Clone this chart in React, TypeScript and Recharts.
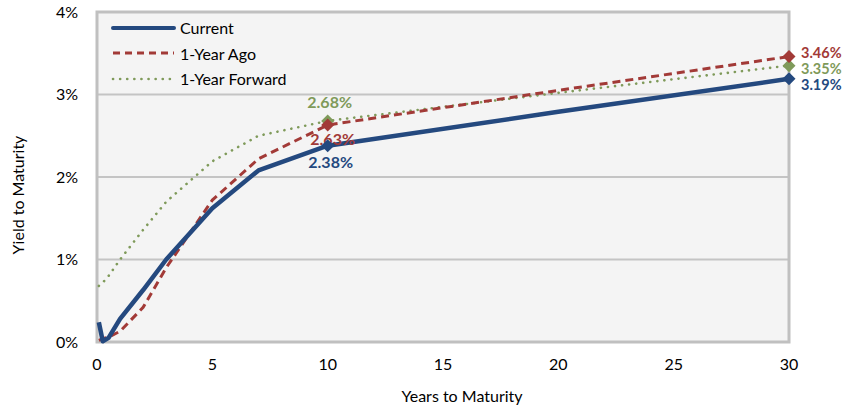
import React from 'react';
import {
  LineChart,
  Line,
  XAxis,
  YAxis,
  CartesianGrid,
  ReferenceArea,
} from 'recharts';

// maturities in years
const maturities = [0.08, 0.25, 0.5, 1, 2, 3, 5, 7, 10, 20, 30];
// yields in %
const currentYields = [0.24, 0.01, 0.05, 0.28, 0.63, 1.0, 1.62, 2.08, 2.38, 2.79, 3.19];
const yearAgoYields = [0.02, 0.04, 0.06, 0.13, 0.42, 0.9, 1.72, 2.22, 2.63, 3.05, 3.46];
const forwardYields = [0.68, 0.72, 0.8, 1.0, 1.36, 1.7, 2.19, 2.5, 2.68, 3.02, 3.35];

const xTicks = [0, 5, 10, 15, 20, 25, 30];
const yTicks = [0, 1, 2, 3, 4];
const labelledMaturities = [10, 30];

const FONT = 'Lato, "Open Sans", sans-serif';
const BLUE = '#24497f';
const RED = '#a23a37';
const GREEN = '#7f9a5a';

const data = maturities.map((m, i) => ({
  m,
  current: currentYields[i],
  ago: yearAgoYields[i],
  fwd: forwardYields[i],
}));

type LabelPos = { dx: number; dy: number; anchor: 'start' | 'middle'; size: number };

// where the value labels sit relative to the marker
const labelPlacement: Record<string, Record<number, LabelPos>> = {
  current: {
    10: { dx: 3, dy: 22, anchor: 'middle', size: 16 },
    30: { dx: 12, dy: 11, anchor: 'start', size: 14.5 },
  },
  ago: {
    10: { dx: 5, dy: 20, anchor: 'middle', size: 16 },
    30: { dx: 12, dy: 1, anchor: 'start', size: 14.5 },
  },
  fwd: {
    10: { dx: 2, dy: -13, anchor: 'middle', size: 16 },
    30: { dx: 12, dy: 8, anchor: 'start', size: 14.5 },
  },
};

const makeDot = (key: string, color: string) => (props: any) => {
  const { cx, cy, payload, index } = props;
  if (!labelledMaturities.includes(payload.m)) return <g key={`${key}-${index}`} />;
  const pos = labelPlacement[key][payload.m];
  const r = 6.5;
  return (
    <g key={`${key}-${index}`}>
      <path
        d={`M${cx},${cy - r} L${cx + r},${cy} L${cx},${cy + r} L${cx - r},${cy} Z`}
        fill={color}
      />
      <text
        x={cx + pos.dx}
        y={cy + pos.dy}
        textAnchor={pos.anchor}
        fill={color}
        fontFamily={FONT}
        fontWeight={700}
        fontSize={pos.size}
      >
        {`${payload[key].toFixed(2)}%`}
      </text>
    </g>
  );
};

const legendItems = [
  { name: 'Current', color: BLUE, width: 4, dash: undefined, cap: 'round' as const },
  { name: '1-Year Ago', color: RED, width: 3, dash: '7 5', cap: 'butt' as const },
  { name: '1-Year Forward', color: GREEN, width: 2.6, dash: '0.1 7', cap: 'round' as const },
];

// legend is kept outside the chart so it does not eat into the plot area
const ChartLegend = () => (
  <div
    style={{
      position: 'absolute',
      left: 110,
      top: 15,
      fontFamily: FONT,
      fontSize: 16,
      color: '#000',
    }}
  >
    {legendItems.map((it) => (
      <div key={it.name} style={{ display: 'flex', alignItems: 'center', height: 25.5 }}>
        <svg width={68} height={10} style={{ marginRight: 2 }}>
          <line
            x1={3}
            y1={5}
            x2={64}
            y2={5}
            stroke={it.color}
            strokeWidth={it.width}
            strokeDasharray={it.dash}
            strokeLinecap={it.cap}
          />
        </svg>
        <span>{it.name}</span>
      </div>
    ))}
  </div>
);

const App = () => {
  return (
    <div style={{ position: 'absolute', left: 0, top: 0, width: 854, height: 410, background: '#fff' }}>
      <LineChart
        width={854}
        height={410}
        data={data}
        margin={{ top: 12, right: 65, left: 0, bottom: 0 }}
      >
        <CartesianGrid
          horizontal
          vertical={false}
          stroke="#c4c4c4"
          strokeWidth={2}
          fill="#f4f4f4"
        />
        <ReferenceArea
          x1={0}
          x2={30}
          y1={0}
          y2={4}
          fill="none"
          stroke="#c0c0c0"
          strokeWidth={3}
          ifOverflow="visible"
        />
        <XAxis
          type="number"
          dataKey="m"
          domain={[0, 30]}
          ticks={xTicks}
          axisLine={false}
          tickLine={false}
          tickSize={0}
          tickMargin={17}
          height={68}
          tick={{ fill: '#000', fontSize: 16, fontFamily: FONT }}
          label={(p: any) => {
            const vb = p.viewBox;
            return (
              <text
                x={vb.x + vb.width / 2 + 19}
                y={402}
                textAnchor="middle"
                fill="#000"
                fontSize={16}
                fontFamily={FONT}
              >
                Years to Maturity
              </text>
            );
          }}
        />
        <YAxis
          type="number"
          domain={[0, 4]}
          ticks={yTicks}
          axisLine={false}
          tickLine={false}
          tickSize={0}
          tickMargin={19}
          width={97}
          tickFormatter={(v: number) => `${v}%`}
          tick={{ fill: '#000', fontSize: 16, fontFamily: FONT }}
          label={(p: any) => {
            const vb = p.viewBox;
            const cy = vb.y + vb.height / 2 + 18;
            return (
              <text
                x={24}
                y={cy}
                textAnchor="middle"
                fill="#000"
                fontSize={16}
                fontFamily={FONT}
                transform={`rotate(-90, 24, ${cy})`}
              >
                Yield to Maturity
              </text>
            );
          }}
        />
        <Line
          type="linear"
          dataKey="fwd"
          name="1-Year Forward"
          stroke={GREEN}
          strokeWidth={2.6}
          strokeDasharray="0.1 7"
          strokeLinecap="round"
          dot={makeDot('fwd', GREEN)}
          activeDot={false}
          isAnimationActive={false}
        />
        <Line
          type="linear"
          dataKey="ago"
          name="1-Year Ago"
          stroke={RED}
          strokeWidth={3}
          strokeDasharray="8 5"
          dot={makeDot('ago', RED)}
          activeDot={false}
          isAnimationActive={false}
        />
        <Line
          type="linear"
          dataKey="current"
          name="Current"
          stroke={BLUE}
          strokeWidth={4.5}
          strokeLinejoin="round"
          dot={makeDot('current', BLUE)}
          activeDot={false}
          isAnimationActive={false}
        />
      </LineChart>
      <ChartLegend />
    </div>
  );
};

export default App;
